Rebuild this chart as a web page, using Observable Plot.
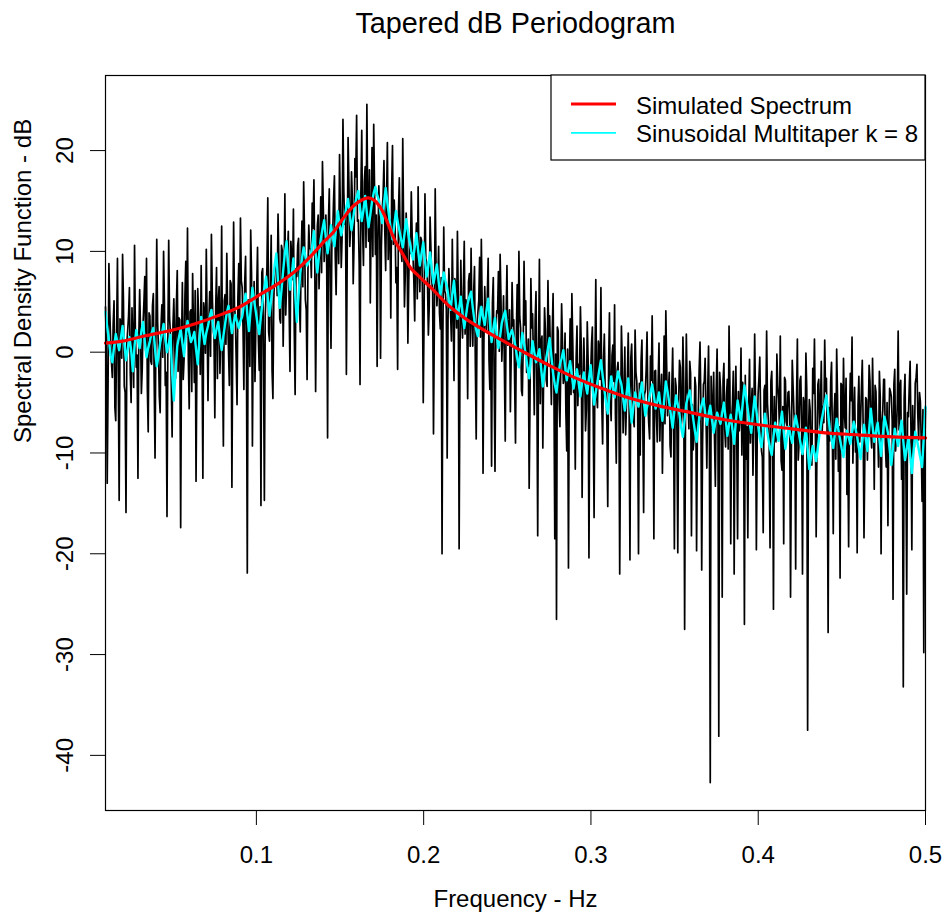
<!DOCTYPE html>
<html><head><meta charset="utf-8">
<script src="https://cdn.jsdelivr.net/npm/d3@7"></script>
<script src="https://cdn.jsdelivr.net/npm/@observablehq/plot@0.6"></script>
<style>html,body{margin:0;padding:0;background:#fff;} svg{display:block}</style>
</head><body><div id="chart"></div>
<script>
// ---- texts ----
const title = "Tapered dB Periodogram";
const xLabel = "Frequency - Hz";
const yLabel = "Spectral Density Function - dB";
const legendLabels = ["Simulated Spectrum", "Sinusoidal Multitaper k = 8"];
const xTicks = [0.1, 0.2, 0.3, 0.4, 0.5];
const yTicks = [-40, -30, -20, -10, 0, 10, 20];

// ---- frequency range (Fourier frequencies, evenly spaced) ----
const freqRange = [0.0098, 0.5];

// ---- simulated (true) spectrum, dB ----
const redFreq = [0.0098, 0.02, 0.033, 0.05, 0.063, 0.08, 0.09, 0.103, 0.113, 0.123, 0.133, 0.14, 0.146, 0.152, 0.158, 0.163, 0.167, 0.171, 0.175, 0.179, 0.183, 0.188, 0.192, 0.198, 0.205, 0.215, 0.226, 0.237, 0.25, 0.26, 0.275, 0.29, 0.305, 0.32, 0.34, 0.36, 0.38, 0.4, 0.42, 0.44, 0.46, 0.48, 0.5];
const redDb = [0.9, 1.1, 1.6, 2.2, 2.8, 3.8, 4.5, 5.8, 6.8, 8.0, 9.6, 10.9, 11.9, 13.3, 14.5, 15.1, 15.3, 15.0, 14.1, 12.6, 11.0, 9.6, 8.4, 7.4, 6.3, 4.6, 3.2, 2.1, 0.9, 0.0, -1.3, -2.5, -3.5, -4.4, -5.3, -6.0, -6.7, -7.2, -7.6, -8.0, -8.2, -8.4, -8.5];

// ---- tapered periodogram, dB (black): even-indexed frequencies ----
const periodogramDbEven = [
  4.5, -13.0, 8.8, 1.2, -2.5, 5.1, -6.8, 9.3, -14.7, 3.0, 9.7, -3.4, -15.9, 2.2, 6.4, -5.0, 0.8, 10.6, -1.5, -12.5,
  6.2, -4.1, 2.9, 7.5, 9.3, -7.9, 3.6, -1.2, 5.8, -10.5, 11.2, 0.4, -6.0, 4.7, 10.0, -3.3, -16.3, 11.1, 1.9, -8.4,
  5.3, -2.6, 8.1, 3.4, -17.4, 6.9, -0.7, 9.0, 12.3, -5.6, 4.2, 7.8, -3.0, -12.8, 6.3, 1.5, 8.6, -12.5, 3.9, 10.2,
  -4.8, 6.0, 11.7, 2.3, -6.5, 8.4, 4.9, -2.1, 12.5, -9.3, 5.7, 9.8, 0.2, 7.1, -13.4, 12.9, 3.5, -5.2, 8.8, 13.3,
  6.4, -3.7, 9.5, -21.9, 4.8, 12.1, -9.3, 7.0, 2.6, 10.4, -1.8, -15.2, 8.3, -14.7, 5.9, 15.3, 1.1, 11.6, -4.6, 7.9,
  9.1, 13.7, 3.3, 10.6, 0.6, 15.7, 6.8, 12.0, -1.9, 9.4, 14.2, -4.2, 7.5, 11.3, 2.0, 13.0, 16.9, 5.2, -2.7, 12.6,
  10.2, 14.8, 17.1, -3.9, 12.5, 6.3, 15.4, 18.9, 9.0, 13.6, -8.5, 16.2, 0.4, 11.8, 17.5, 5.7, 14.0, 19.6, 8.4, 23.1,
  12.7, -2.2, 21.3, 10.5, 17.9, 6.8, 19.2, 23.5, 13.1, -3.2, 22.0, 8.6, 18.4, 24.6, 11.0, 4.9, 20.3, 22.6, 9.7, -1.4,
  16.5, -0.6, 14.2, 19.0, 8.1, 20.8, 12.6, 3.4, 20.5, 15.1, 6.9, -1.7, 17.3, 10.2, 21.2, 4.5, 13.8, 0.9, 11.4, 15.9,
  9.6, 3.1, 12.8, 16.4, 6.0, 11.1, -5.0, 15.7, 8.9, 1.7, 13.4, 7.2, -8.1, 16.2, 4.6, 10.5, 2.3, -20.0, 12.4, 5.8,
  -10.5, 8.3, 3.9, 11.2, -2.8, 6.7, 12.0, -19.5, 9.1, 1.4, 11.0, 5.2, -4.6, 7.8, 10.3, 0.6, 8.5, -8.6, 4.0, 9.4,
  11.2, -12.0, 6.5, 2.0, 9.3, -3.7, -11.3, 7.4, -11.8, 4.1, 8.0, 9.7, -0.9, 5.6, -8.8, 8.6, 1.3, -5.9, 6.9, 3.2,
  -9.0, 6.7, 10.0, 2.4, -4.3, 9.0, 5.1, -1.6, -13.5, 7.3, 3.8, -6.2, 6.0, -18.2, 9.2, 1.0, -9.5, 4.4, -2.8, 7.1,
  3.6, -5.2, 5.8, -18.5, -26.5, 2.1, -7.4, 4.8, -3.1, 1.9, -9.8, -21.4, 3.3, 5.8, -4.0, -11.6, 2.6, -1.2, 4.5, -14.4,
  1.4, -7.8, 3.0, -20.4, -2.2, 2.5, -16.4, 7.2, -5.5, 0.3, 6.4, -9.1, 1.8, -3.6, -15.3, 3.9, -6.8, 0.7, 4.7, -11.0,
  -1.0, -22.0, 2.6, -8.0, 0.5, -4.9, 1.9, -20.6, 0.8, -6.6, 2.2, -2.9, -20.0, -10.2, 1.2, -15.9, -3.8, 2.0, -7.1, -0.4,
  3.6, -18.5, -1.8, -8.9, 0.9, -4.4, -12.0, 1.6, 4.1, -6.3, -2.0, -10.4, 0.4, -19.5, -3.4, -19.9, -0.8, -7.5, 1.5, -27.5,
  1.8, -4.6, -0.9, -18.2, -9.7, -2.5, -19.7, -6.0, 1.0, -21.6, -3.2, -0.6, -11.5, 0.6, -42.7, -7.4, -2.0, -13.3, 0.3, -38.1,
  -3.5, -24.3, -1.1, -9.4, -2.7, 2.6, -19.0, -5.1, -22.0, -1.4, -18.5, -7.8, 0.4, -3.0, -27.0, -10.6, -18.4, -0.7, -5.6, -12.2,
  1.8, -19.6, -4.2, -0.5, -9.8, -17.9, -3.3, 2.1, -6.7, -19.4, -1.9, -25.5, -8.0, -0.2, -4.6, 1.6, -11.7, -19.0, -2.8, -7.3,
  -3.9, -24.3, -0.8, -6.1, -21.5, 1.3, -9.0, -2.4, -22.0, -5.3, -0.1, -37.5, -4.7, -10.9, -1.6, 1.3, -18.3, -3.2, -7.6, -0.9,
  -5.4, 1.2, -2.6, -27.8, -8.8, -1.0, -18.0, -4.1, 0.3, -11.8, -22.4, -3.3, -0.6, -7.5, -14.1, -19.3, -2.1, 1.5, -6.4, -9.9,
  -19.9, -2.4, -6.9, -0.8, -18.4, -4.5, -10.7, -1.3, -8.1, -0.6, -13.6, -3.9, -7.0, -1.9, -20.0, -5.8, -2.7, -11.4, -17.2, -3.6,
  -4.4, -24.5, -1.7, -7.9, 2.1, -3.5, -12.6, -33.2, -2.2, -24.0, -6.4, -0.9, -19.6, -9.3, -3.1, -1.2, -8.7, -4.9, -14.8, -29.8,
  -5.5
];

// ---- tapered periodogram, dB (black): odd-indexed frequencies ----
const periodogramDbOdd = [
  0.5, -3.2, 4.1, -1.0, 2.8, -5.5, 1.7, -2.4, 3.3, -0.6, 5.2, -4.0, 0.9, 3.6, -2.1, 4.4, -3.5, 2.0, -0.3, 1.4,
  2.3, -1.7, 5.0, 0.2, -3.6, 3.9, -0.9, 4.6, -2.8, 1.5, 3.0, -4.4, 2.6, -0.5, 4.8, -2.0, 1.1, 3.4, -3.0, 2.7,
  1.0, 4.7, -1.9, 3.2, 0.4, -2.7, 5.6, 1.8, -0.8, 4.0, -3.9, 2.5, 6.1, -1.3, 3.7, -2.2, 0.7, 4.9, -0.1, 2.9,
  3.0, -0.4, 5.9, 1.6, 4.3, -2.6, 6.5, 2.2, -1.1, 5.1, 0.8, 3.8, -3.3, 6.8, 1.9, 4.6, -0.7, 5.4, 2.7, 7.1,
  2.4, 6.9, 0.3, 5.2, -1.4, 7.6, 3.1, -2.9, 6.2, 1.2, 4.5, 7.9, -0.6, 3.6, 8.4, 2.0, 6.6, -1.8, 5.0, 9.0,
  5.6, 8.8, 2.9, 10.1, 6.3, 3.7, 9.5, 4.4, 11.0, 7.2, 2.1, 8.3, 10.6, 5.0, 9.1, 6.5, 11.8, 4.2, 8.0, 10.3,
  7.4, 12.3, 9.1, 5.8, 13.6, 10.2, 7.9, 14.4, 11.0, 8.3, 12.9, 6.7, 10.6, 15.1, 9.5, 12.0, 8.8, 13.8, 11.4, 16.0,
  14.1, 9.8, 16.6, 12.5, 15.3, 10.9, 17.4, 13.0, 8.7, 15.8, 12.2, 16.9, 10.4, 14.7, 18.1, 12.9, 9.5, 16.2, 13.6, 11.1,
  13.4, 10.5, 15.6, 12.0, 14.6, 9.2, 13.1, 16.0, 10.7, 12.8, 8.4, 13.9, 11.3, 9.0, 12.4, 7.8, 10.9, 6.9, 9.8, 11.6,
  7.1, 10.0, 5.3, 8.6, 11.4, 6.2, 3.8, 9.3, 6.8, 4.5, 10.2, 5.9, 2.8, 8.1, 6.6, 3.9, 7.4, 1.6, 6.1, 4.3,
  3.2, 6.0, 1.1, 4.7, 7.3, 2.4, 5.5, -0.4, 3.6, 6.4, 1.8, 4.0, 7.0, 0.6, 3.3, 5.8, -1.3, 2.9, 5.1, 1.5,
  4.4, 0.9, 3.0, 5.6, -0.8, 2.2, 4.9, -2.5, 1.7, 3.9, 0.1, 5.3, 2.0, -1.6, 3.4, 0.7, 4.2, -0.2, 2.6, -3.0,
  1.9, -1.2, 3.5, -3.8, 0.6, 2.7, -2.0, 1.3, -4.6, 2.4, -0.5, 3.1, -2.9, 0.2, -5.1, 1.6, -1.9, 2.2, -3.4, 0.8,
  -0.9, 1.8, -3.6, -0.2, 2.5, -4.7, -1.5, 0.9, -2.6, -6.0, 0.3, -1.9, -4.2, 1.2, -3.0, -0.6, -5.3, -2.2, 0.4, -3.9,
  -2.4, -5.6, -0.7, -3.5, 0.8, -6.3, -1.6, -4.4, 1.1, -2.7, -5.0, -0.9, -3.8, -7.1, -1.4, -4.6, -0.3, -2.9, -6.2, -1.8,
  -3.3, -6.9, -1.2, -4.8, -8.2, -2.5, -5.4, -0.6, -3.9, -7.4, -2.0, -5.7, -3.1, -0.9, -6.5, -4.2, -1.7, -5.0, -8.6, -2.8,
  -4.6, -1.9, -6.4, -3.0, -8.8, -2.2, -5.5, -7.1, -1.4, -4.0, -9.3, -3.6, -6.0, -2.6, -7.8, -4.9, -1.5, -5.8, -3.2, -6.9,
  -3.7, -7.6, -2.1, -5.2, -8.4, -3.4, -6.6, -1.8, -4.8, -9.1, -2.9, -6.2, -4.1, -7.9, -2.4, -5.6, -8.7, -3.8, -6.4, -2.0,
  -5.9, -2.8, -7.7, -4.3, -9.6, -3.1, -6.8, -1.9, -5.2, -8.3, -3.9, -6.1, -10.2, -4.7, -2.3, -7.4, -5.5, -9.0, -3.6, -6.7,
  -4.9, -8.1, -2.6, -6.3, -10.4, -3.8, -7.0, -5.1, -9.2, -2.9, -6.6, -4.4, -8.9, -3.2, -7.5, -10.8, -5.4, -2.5, -6.9, -4.0,
  -6.2, -9.5, -3.4, -7.3, -5.0, -10.7, -2.8, -6.8, -4.5, -8.6, -3.7, -7.9, -5.8, -11.2, -4.1, -6.4, -9.0, -2.7, -5.6, -8.0,
  -7.0, -3.9, -9.3, -5.5, -2.9, -8.4, -6.1, -10.6, -4.3, -7.4, -3.1, -9.8, -5.9, -2.6, -8.2, -6.6, -4.8, -11.0, -3.5, -7.7,
  -5.3, -8.9, -3.6, -7.2, -10.1, -4.7, -6.4, -2.9, -9.5, -5.8, -3.3, -8.0, -11.4, -4.4, -6.9, -2.7, -9.1, -5.0, -7.6, -3.9,
  -6.7, -3.2, -9.8, -5.1, -7.7, -2.8, -8.5, -4.6, -10.9, -6.0, -3.4, -7.9, -5.3, -9.4, -2.5, -6.2, -4.0, -8.8, -5.7, -11.3
];

// ---- sinusoidal multitaper estimate, k = 8, dB (cyan): even / odd frequencies ----
const multitaperDbEven = [
  4.0, 1.2, -1.0, 1.8, 0.2, 2.6, -0.8, 1.5, -1.9, 2.2, 0.4, 3.0, -0.5, 1.1, 2.4, -1.4, 0.9, 2.8, 0.0, 1.7,
  -4.8, 0.6, 2.3, -0.4, 3.1, 1.0, 2.0, -1.2, 3.5, 0.8, 2.6, 4.2, 1.4, 3.0, 0.2, 2.8, 4.6, 1.9, 3.7, 2.4,
  3.5, 5.8, 2.1, 6.4, 4.0, 1.8, 5.2, 7.5, 3.6, 6.9, 9.8, 4.4, 8.1, 11.0, 6.2, 9.3, 3.0, 7.8, 10.4, 8.6,
  9.4, 12.0, 7.9, 11.2, 13.1, 9.8, 12.6, 10.5, 14.0, 11.6, 13.4, 15.2, 12.1, 14.6, 16.0, 13.0, 15.5, 12.4, 14.9, 16.4,
  15.1, 12.8, 16.3, 13.5, 11.2, 14.0, 12.1, 10.4, 13.2, 11.0, 9.2, 11.8, 8.6, 10.9, 7.5, 9.9, 6.8, 8.7, 5.6, 7.9,
  6.4, 4.2, 7.1, 3.3, 5.5, 2.4, 4.8, 6.0, 3.1, 1.6, 4.5, 2.7, 5.3, 1.0, 3.4, 0.4, 2.9, 4.1, 1.3, 2.2,
  0.6, -1.5, 1.9, -0.2, -2.6, 1.1, -1.0, 0.3, -3.4, -0.6, 1.4, -2.1, -4.0, -1.2, 0.2, -2.8, -0.9, -3.6, -1.7, -4.4,
  -2.0, -4.1, -1.3, -5.2, -2.9, -0.8, -3.7, -6.1, -2.4, -4.5, -1.9, -3.2, -5.8, -2.6, -7.0, -4.0, -5.4, -3.0, -6.3, -4.8,
  -3.2, -5.6, -4.0, -6.8, -2.9, -5.0, -7.5, -4.3, -6.2, -8.4, -5.1, -3.8, -6.6, -8.9, -5.9, -4.6, -7.2, -5.3, -8.0, -6.0,
  -7.1, -5.0, -8.3, -6.2, -9.1, -4.8, -6.9, -3.3, -5.7, -8.0, -4.4, -7.3, -9.4, -6.1, -8.6, -10.2, -7.0, -8.8, -5.9, -9.6,
  -7.4, -9.0, -6.3, -8.2, -10.1, -7.5, -11.6, -9.3, -10.8, -8.1, -6.0, -4.3, -7.7, -9.5, -6.6, -8.7, -10.4, -7.8, -9.1, -6.9,
  -8.4, -10.6, -7.2, -9.8, -5.6, -8.9, -7.0, -10.3, -6.4, -8.0, -11.2, -7.6, -9.3, -6.8, -10.7, -8.5, -12.0, -7.9, -9.6, -11.4,
  -5.4
];
const multitaperDbOdd = [
  2.5, -0.3, 0.5, 1.0, 1.4, 0.9, 0.3, 0.2, 0.6, 1.2, 2.1, 1.1, 0.4, 1.9, 0.3, -0.4, 1.8, 1.3, 0.8, -2.0,
  -1.9, 1.5, 0.9, 1.6, 2.0, 1.4, 0.3, 1.2, 2.0, 1.9, 3.5, 2.6, 2.3, 1.5, 1.6, 3.9, 3.2, 2.9, 3.0, 3.1,
  4.7, 3.8, 4.3, 5.1, 2.8, 3.6, 6.4, 5.4, 5.3, 8.6, 7.0, 6.1, 9.8, 8.5, 7.6, 5.8, 5.6, 9.3, 9.5, 9.0,
  10.6, 9.8, 9.6, 12.2, 11.3, 11.0, 11.4, 12.4, 12.7, 12.5, 14.4, 13.5, 13.3, 15.4, 14.3, 14.1, 13.8, 13.6, 15.8, 15.6,
  13.8, 14.7, 14.8, 12.2, 12.5, 13.0, 11.2, 11.7, 12.0, 10.0, 10.4, 10.1, 9.8, 9.1, 8.6, 8.2, 7.8, 7.0, 6.8, 7.1,
  5.2, 5.8, 5.0, 4.4, 3.8, 3.6, 5.5, 4.4, 2.2, 3.1, 3.5, 4.1, 3.0, 2.3, 1.7, 1.6, 3.6, 2.6, 1.8, 1.4,
  -0.6, 0.3, 0.8, -1.5, -0.7, 0.0, -0.3, -1.6, -1.9, 0.4, -0.4, -3.2, -2.5, -0.6, -1.4, -1.7, -2.4, -2.6, -3.1, -3.0,
  -3.2, -2.6, -3.4, -4.0, -1.8, -2.3, -5.0, -4.2, -3.5, -3.1, -2.6, -4.6, -4.1, -4.9, -5.4, -4.8, -4.1, -4.7, -5.4, -4.0,
  -4.3, -4.9, -5.5, -4.8, -3.9, -6.3, -5.8, -5.2, -7.5, -6.7, -4.4, -5.2, -7.8, -7.3, -5.2, -6.0, -6.2, -6.7, -7.0, -6.6,
  -6.0, -6.6, -7.2, -7.7, -6.8, -5.8, -5.1, -4.4, -7.0, -6.1, -5.8, -8.5, -7.8, -7.4, -9.5, -8.4, -8.0, -7.2, -7.8, -8.4,
  -8.3, -7.6, -7.2, -9.2, -8.8, -9.6, -10.4, -10.0, -9.5, -7.0, -5.1, -6.0, -8.6, -8.0, -7.7, -9.6, -9.1, -8.4, -8.0, -7.6,
  -9.5, -8.9, -8.5, -7.7, -7.3, -7.9, -8.6, -8.3, -7.2, -9.6, -9.4, -8.5, -8.0, -8.8, -9.6, -10.2, -9.9, -8.7, -10.5, -8.4
];

// ---- build tables ----
const interleave = (even, odd) => even.flatMap((v, i) => i < odd.length ? [v, odd[i]] : [v]);
const onGrid = vals => vals.map((v, i) => ({
  f: freqRange[0] + i * (freqRange[1] - freqRange[0]) / (vals.length - 1),
  db: v
}));
const periodogram = onGrid(interleave(periodogramDbEven, periodogramDbOdd));
const multitaper = onGrid(interleave(multitaperDbEven, multitaperDbOdd));
const spectrum = redFreq.map((f, i) => ({f, db: redDb[i]}));

const W = 946, H = 912;
const mL = 105, mR = 21, mT = 75, mB = 102;
const font = "'Liberation Sans', Arial, Helvetica, sans-serif";

const chart = Plot.plot({
  width: W, height: H,
  marginLeft: mL, marginRight: mR, marginTop: mT, marginBottom: mB,
  style: {fontFamily: font, fontSize: "24px", color: "#000", background: "#fff", overflow: "visible"},
  x: {domain: freqRange},
  y: {domain: [-45.47, 27.45]},
  marks: [
    Plot.line(periodogram, {x: "f", y: "db", stroke: "#000", strokeWidth: 1.7}),
    Plot.line(multitaper, {x: "f", y: "db", stroke: "#00ffff", strokeWidth: 2.4}),
    Plot.line(spectrum, {x: "f", y: "db", stroke: "#ff0000", strokeWidth: 3.2, curve: "catmull-rom"}),
    Plot.frame({stroke: "#000", strokeWidth: 1.2}),
    Plot.axisX({ticks: xTicks, tickSize: 15, tickPadding: 20, fontSize: 24, label: null, tickFormat: d => String(d), stroke: "#000"}),
    Plot.axisY({ticks: yTicks, tickSize: 15, tickFormat: () => "", label: null, stroke: "#000"}),
    Plot.text(yTicks, {y: d => d, text: d => String(d), frameAnchor: "left", rotate: -90, dx: -33, textAnchor: "middle", lineAnchor: "bottom", fontSize: 24, fill: "#000"}),
    Plot.text([title], {text: d => d, frameAnchor: "top", dy: -43, lineAnchor: "bottom", fontSize: 28.8, fill: "#000"}),
    Plot.text([xLabel], {text: d => d, frameAnchor: "bottom", dy: 96, lineAnchor: "bottom", fontSize: 24, fill: "#000"}),
    Plot.text([yLabel], {text: d => d, frameAnchor: "left", dx: -75, rotate: -90, lineAnchor: "bottom", fontSize: 24, fill: "#000"})
  ]
});

// ---- legend (top-right, inside the frame) ----
const svg = d3.select(chart);
const lg = svg.append("g").attr("font-family", font).attr("font-size", 24).attr("text-anchor", "start");
lg.append("rect").attr("x", 551).attr("y", 75).attr("width", 374).attr("height", 85)
  .attr("fill", "#fff").attr("stroke", "#000").attr("stroke-width", 1.2);
const legendColors = ["#ff0000", "#00ffff"];
const legendWidths = [3.2, 1.8];
legendLabels.forEach((lab, i) => {
  const y = 104 + i * 28.8;
  lg.append("line").attr("x1", 571).attr("x2", 616).attr("y1", y).attr("y2", y)
    .attr("stroke", legendColors[i]).attr("stroke-width", legendWidths[i]);
  lg.append("text").attr("x", 636).attr("y", y + 9.5).attr("fill", "#000")
    .attr("text-anchor", "start").text(lab);
});

document.getElementById("chart").appendChild(chart);
</script>
</body></html>
